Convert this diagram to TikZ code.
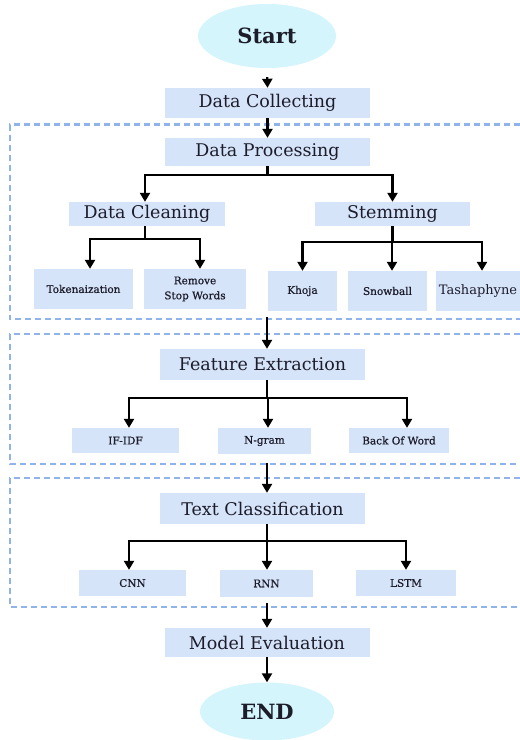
\documentclass[tikz,border=0pt]{standalone}
\usepackage{fontspec}
\setmainfont{DejaVu Serif}
\newfontface\semib{DejaVu Serif}[FakeBold=0.6]
\usetikzlibrary{shapes.geometric,arrows.meta}
\definecolor{boxfill}{HTML}{D6E4FA}
\definecolor{ovalfill}{HTML}{D4F5FB}
\definecolor{dashcol}{HTML}{8FB3EA}
\definecolor{txt}{HTML}{1C1C2A}
\tikzset{
  box/.style={rectangle, fill=boxfill, inner sep=0pt, text=txt, align=center},
  oval/.style={ellipse, fill=ovalfill, inner sep=0pt, text=txt},
  big/.style={font=\fontsize{17.5}{20}\selectfont},
  small/.style={font=\semib\fontsize{10.5}{15}\selectfont},
  arr/.style={line width=2.3pt, -{Triangle[width=10pt,length=9pt]}},
  region/.style={draw=dashcol, line width=2.3pt, dash pattern=on 6pt off 4pt},
}
\begin{document}
\begin{tikzpicture}[x=1pt,y=-1pt]
\useasboundingbox (0,0) rectangle (520,740);
% dashed regions
\draw[region] (520,124.5) -- (10,124.5) -- (10,319) -- (520,319);
\draw[region] (520,334) -- (10,334) -- (10,464) -- (520,464);
\draw[region] (520,478) -- (10,478) -- (10,607) -- (520,607);
% nodes
\node[oval, minimum width=138, minimum height=64, font=\bfseries\fontsize{21}{24}\selectfont] (start) at (267,36) {Start};
\node[box, big, minimum width=205, minimum height=30] (dcol) at (267.5,103) {Data Collecting};
\node[box, big, minimum width=205, minimum height=28] (dp) at (267.5,152) {Data Processing};
\node[box, big, minimum width=156, minimum height=24] (dclean) at (147,214) {Data Cleaning};
\node[box, big, minimum width=155, minimum height=24] (stem) at (392.5,214) {Stemming};
\node[box, small, minimum width=99, minimum height=40] (tok) at (83.5,289) {Tokenaization};
\node[box, small, minimum width=102, minimum height=40] (rsw) at (195,289) {Remove\\Stop Words};
\node[box, small, minimum width=69, minimum height=40] (khoja) at (302.5,291) {Khoja};
\node[box, small, minimum width=79, minimum height=40] (snow) at (387.5,291) {Snowball};
\node[box, font=\fontsize{13}{16}\selectfont, minimum width=84, minimum height=40] (tash) at (478,291) {Tashaphyne};
\node[box, big, minimum width=205, minimum height=31] (fe) at (262.5,364.5) {Feature Extraction};
\node[box, small, minimum width=107, minimum height=25] (ifidf) at (125.5,440.5) {IF-IDF};
\node[box, small, minimum width=93, minimum height=26] (ngram) at (264.5,441) {N-gram};
\node[box, small, minimum width=100, minimum height=25] (bow) at (399,440.5) {Back Of Word};
\node[box, big, minimum width=205, minimum height=31] (tc) at (262.5,508.5) {Text Classification};
\node[box, small, minimum width=107, minimum height=26] (cnn) at (132.5,583) {CNN};
\node[box, small, minimum width=93, minimum height=27] (rnn) at (266.5,583.5) {RNN};
\node[box, small, minimum width=100, minimum height=26] (lstm) at (406,583) {LSTM};
\node[box, big, minimum width=205, minimum height=29] (me) at (267,642.5) {Model Evaluation};
\node[oval, minimum width=134, minimum height=58, font=\bfseries\fontsize{21}{24}\selectfont] (end) at (267,711.5) {END};
% fill the Tashaphyne box out to the right edge
\fill[boxfill] (tash.north east) rectangle ([xshift=10pt]tash.south east);
% free ends
\coordinate (r1) at (267,317);
\coordinate (r2) at (267,463);
\coordinate (r3) at (267,603);
% connectors
\draw[arr, shorten <=9pt] (start.south) -- (dcol.north);
\draw[arr] (dcol.south) -- (dp.north);
\draw[arr] (dp.south) -- ++(0,9) -| ([xshift=-2pt]dclean.north);
\draw[arr] (dp.south) -- ++(0,9) -| (stem.north);
\draw[arr] ([xshift=-2pt]dclean.south) -- ++(0,13) -| ([xshift=6.5pt]tok.north);
\draw[arr] ([xshift=-2pt]dclean.south) -- ++(0,13) -| ([xshift=5pt]rsw.north);
\draw[arr] (stem.south) -- ++(0,16) -| (khoja.north);
\draw[arr] (stem.south) -- ++(0,16) -| ([xshift=4.5pt]snow.north);
\draw[arr] (stem.south) -- ++(0,16) -| ([xshift=4pt]tash.north);
\draw[arr] (r1) -- (r1 |- fe.north);
\draw[arr] (r1 |- fe.south) -- ++(0,18) -| ([xshift=3.5pt]ifidf.north);
\draw[arr] (r1 |- fe.south) -- ++(0,18) -| ([xshift=3.5pt]ngram.north);
\draw[arr] (r1 |- fe.south) -- ++(0,18) -| ([xshift=8pt]bow.north);
\draw[arr] (r2) -- (r2 |- tc.north);
\draw[arr] (r2 |- tc.south) -- ++(0,17) -| ([xshift=-3.5pt]cnn.north);
\draw[arr] (r2 |- tc.south) -- ++(0,17) -| ([xshift=0.5pt]rnn.north);
\draw[arr] (r2 |- tc.south) -- ++(0,17) -| (lstm.north);
\draw[arr] (r3) -- (r3 |- me.north);
\draw[arr] (me.south) -- (end.north);
\end{tikzpicture}
\end{document}
